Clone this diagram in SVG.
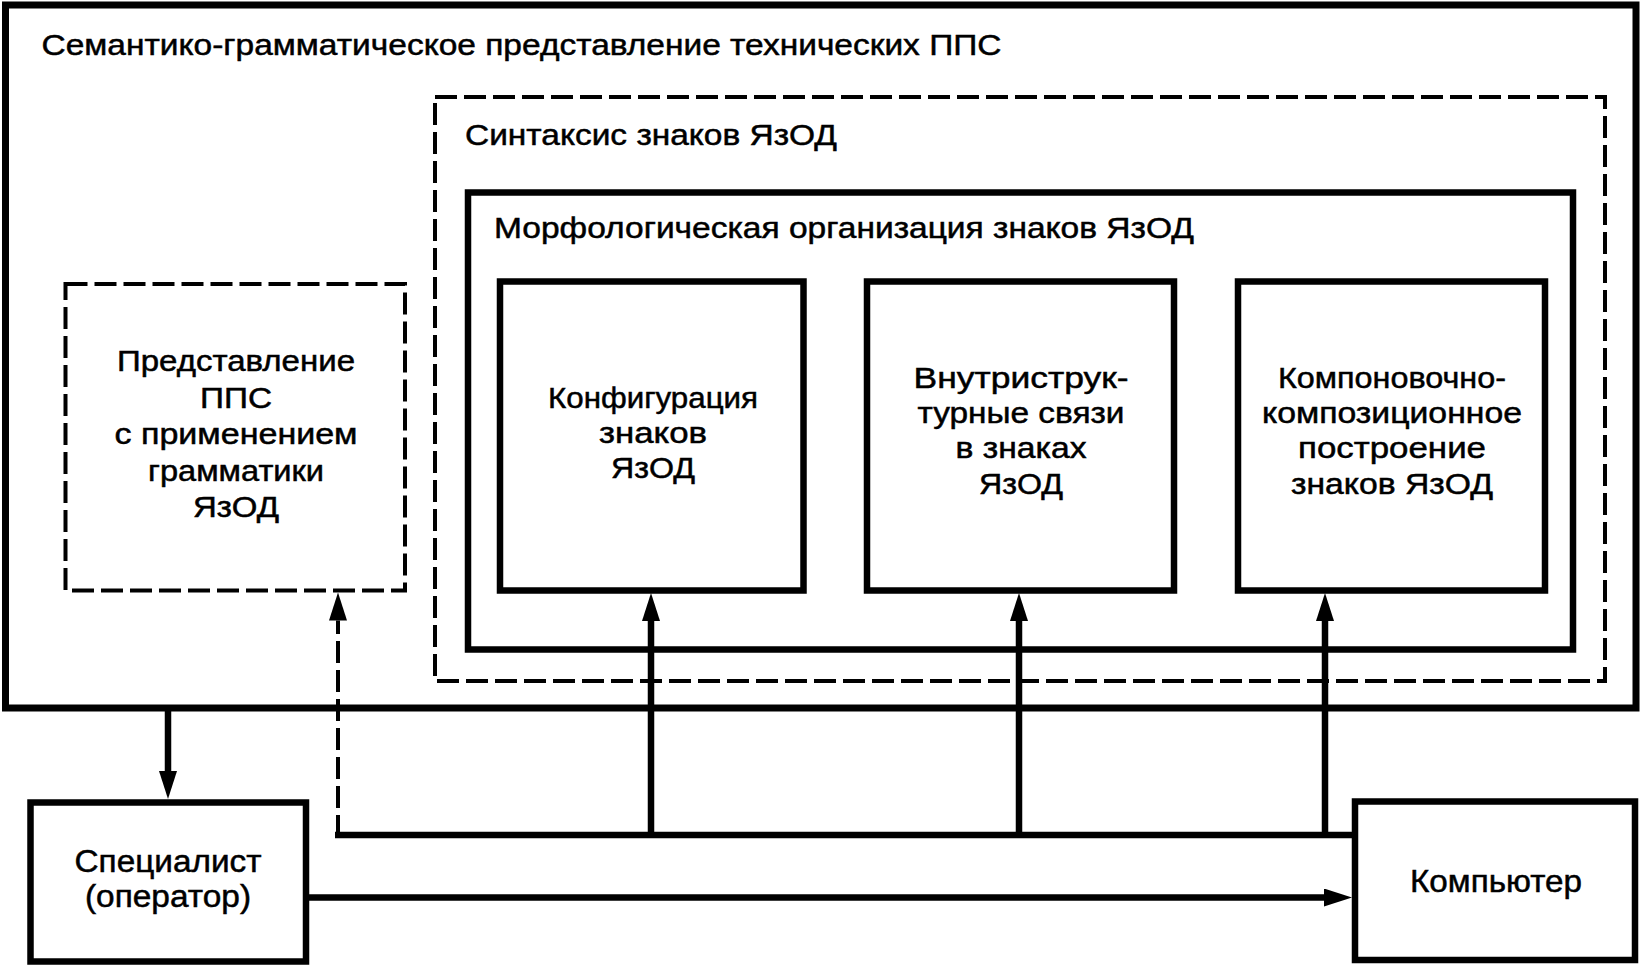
<svg xmlns="http://www.w3.org/2000/svg" width="1642" height="969" viewBox="0 0 1642 969">
<style>
.solid{fill:none;stroke:#000;stroke-width:6.5}
.outer{fill:none;stroke:#000;stroke-width:7}
.dash{fill:none;stroke:#000;stroke-width:4;stroke-dasharray:22 7}
.conn{fill:none;stroke:#000;stroke-width:6.5}
.dconn{fill:none;stroke:#000;stroke-width:4;stroke-dasharray:22 7}
text{font-family:"Liberation Sans",Arial,sans-serif;fill:#000;stroke:#000;stroke-width:0.5}
.t30{font-size:30px}
.t29{font-size:29px}
.t31{font-size:31px}
.t32{font-size:32px}
.c{text-anchor:middle}
</style>
<defs>
<marker id="ah" viewBox="0 0 28 18" refX="0" refY="9" markerWidth="28" markerHeight="18" markerUnits="userSpaceOnUse" orient="auto">
<path d="M0,0 L28,9 L0,18 Z" fill="#000"/>
</marker>
</defs>
<rect width="1642" height="969" fill="#fff"/>

<g id="semantic">
<rect class="outer" x="5.5" y="5" width="1630.5" height="703"/>
<text class="t30" x="41.5" y="55" textLength="960" lengthAdjust="spacingAndGlyphs">Семантико-грамматическое представление технических ППС</text>
</g>

<g id="syntax">
<rect class="dash" x="435" y="97" width="1170" height="584"/>
<text class="t30" x="465" y="145" textLength="372" lengthAdjust="spacingAndGlyphs">Синтаксис знаков ЯзОД</text>
</g>

<g id="morph">
<rect class="solid" x="468" y="192.5" width="1105" height="457"/>
<text class="t30" x="494" y="238" textLength="700" lengthAdjust="spacingAndGlyphs">Морфологическая организация знаков ЯзОД</text>
</g>

<g id="grammar">
<rect class="dash" x="65.5" y="284" width="339.5" height="306.5"/>
<text class="t29 c" x="236" y="371" textLength="238" lengthAdjust="spacingAndGlyphs">Представление</text>
<text class="t29 c" x="236" y="407.5" textLength="72" lengthAdjust="spacingAndGlyphs">ППС</text>
<text class="t29 c" x="236" y="444" textLength="243" lengthAdjust="spacingAndGlyphs">с применением</text>
<text class="t29 c" x="236" y="480.5" textLength="176" lengthAdjust="spacingAndGlyphs">грамматики</text>
<text class="t29 c" x="236" y="517" textLength="86" lengthAdjust="spacingAndGlyphs">ЯзОД</text>
</g>

<g id="config">
<rect class="solid" x="500" y="281.5" width="303.5" height="309"/>
<text class="t30 c" x="653" y="408" textLength="210" lengthAdjust="spacingAndGlyphs">Конфигурация</text>
<text class="t30 c" x="653" y="443" textLength="108" lengthAdjust="spacingAndGlyphs">знаков</text>
<text class="t30 c" x="653" y="478" textLength="84" lengthAdjust="spacingAndGlyphs">ЯзОД</text>
</g>

<g id="links">
<rect class="solid" x="867" y="281.5" width="307" height="309"/>
<text class="t30 c" x="1021" y="388" textLength="215" lengthAdjust="spacingAndGlyphs">Внутриструк-</text>
<text class="t30 c" x="1021" y="423" textLength="207" lengthAdjust="spacingAndGlyphs">турные связи</text>
<text class="t30 c" x="1021" y="458" textLength="131" lengthAdjust="spacingAndGlyphs">в знаках</text>
<text class="t30 c" x="1021" y="494" textLength="84" lengthAdjust="spacingAndGlyphs">ЯзОД</text>
</g>

<g id="layout">
<rect class="solid" x="1238" y="281.5" width="307" height="309"/>
<text class="t30 c" x="1392" y="388" textLength="228" lengthAdjust="spacingAndGlyphs">Компоновочно-</text>
<text class="t30 c" x="1392" y="423" textLength="260" lengthAdjust="spacingAndGlyphs">композиционное</text>
<text class="t30 c" x="1392" y="458" textLength="188" lengthAdjust="spacingAndGlyphs">построение</text>
<text class="t30 c" x="1392" y="494" textLength="202" lengthAdjust="spacingAndGlyphs">знаков ЯзОД</text>
</g>

<g id="specialist">
<rect class="solid" x="30.5" y="802.5" width="275.5" height="159"/>
<text class="t31 c" x="168" y="872" textLength="187" lengthAdjust="spacingAndGlyphs">Специалист</text>
<text class="t31 c" x="168" y="907" textLength="166" lengthAdjust="spacingAndGlyphs">(оператор)</text>
</g>

<g id="computer">
<rect class="solid" x="1355" y="801.5" width="280" height="158.5"/>
<text class="t32 c" x="1496" y="892" textLength="172" lengthAdjust="spacingAndGlyphs">Компьютер</text>
</g>

<g id="connectors">
<line class="conn" x1="168" y1="711" x2="168" y2="771" marker-end="url(#ah)"/>
<line class="conn" x1="309" y1="897.5" x2="1324" y2="897.5" marker-end="url(#ah)"/>
<line class="conn" x1="335" y1="835" x2="1352" y2="835"/>
<line class="conn" x1="651" y1="835" x2="651" y2="621" marker-end="url(#ah)"/>
<line class="conn" x1="1019" y1="835" x2="1019" y2="621" marker-end="url(#ah)"/>
<line class="conn" x1="1325" y1="835" x2="1325" y2="621" marker-end="url(#ah)"/>
<line class="dconn" x1="338" y1="837" x2="338" y2="620.5" marker-end="url(#ah)"/>
</g>
</svg>
